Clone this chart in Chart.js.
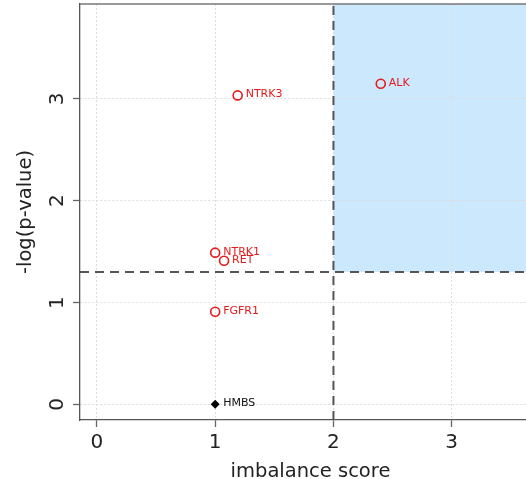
<!DOCTYPE html>
<html>
<head>
<meta charset="utf-8">
<script src="https://cdn.jsdelivr.net/npm/chart.js@4"></script>
<style>
  html, body { margin: 0; padding: 0; overflow: hidden; background: #fff; }
  canvas { display: block; }
</style>
</head>
<body>
<canvas id="volcano" width="526" height="479"></canvas>
<script>
// genes of interest
const genes = ["NTRK3", "ALK", "NTRK1", "RET", "FGFR1"];
const imbalance = [1.19, 2.40, 1.0, 1.075, 1.0];
const logP = [3.035, 3.15, 1.49, 1.41, 0.91];

// housekeeping control
const controlGenes = ["HMBS"];
const controlImbalance = [1.0];
const controlLogP = [0.0];

const xTicks = [0, 1, 2, 3];
const yTicks = [0, 1, 2, 3];
const imbalanceCutoff = 2;
const pCutoff = 1.3;

const red = "#e41a1c";
const fontFamily = "'DejaVu Sans', sans-serif";
Chart.defaults.font.family = fontFamily;

// shaded "significant" corner, under the grid
const shadePlugin = {
  id: "shade",
  beforeDraw(chart) {
    const { ctx, chartArea, scales } = chart;
    const x0 = scales.x.getPixelForValue(imbalanceCutoff);
    const y0 = scales.y.getPixelForValue(pCutoff);
    ctx.save();
    ctx.fillStyle = "#cce8fc";
    ctx.fillRect(x0, chartArea.top, chartArea.right - x0, y0 - chartArea.top);
    ctx.restore();
  }
};

// dashed cutoff lines + top frame
const cutoffPlugin = {
  id: "cutoffs",
  beforeDatasetsDraw(chart) {
    const { ctx, chartArea, scales } = chart;
    const x0 = scales.x.getPixelForValue(imbalanceCutoff);
    const y0 = scales.y.getPixelForValue(pCutoff);
    ctx.save();
    ctx.strokeStyle = "#555";
    ctx.lineWidth = 2;
    ctx.setLineDash([9, 6]);
    ctx.beginPath();
    ctx.moveTo(chartArea.left, y0);
    ctx.lineTo(chartArea.right, y0);
    ctx.moveTo(x0, chartArea.bottom);
    ctx.lineTo(x0, chartArea.top);
    ctx.stroke();
    ctx.setLineDash([]);
    ctx.strokeStyle = "#777";
    ctx.lineWidth = 1.5;
    ctx.beginPath();
    ctx.moveTo(chartArea.left, chartArea.top);
    ctx.lineTo(chartArea.right, chartArea.top);
    ctx.stroke();
    ctx.restore();
  }
};

// gene names next to points, rotated y tick labels, x title
const labelPlugin = {
  id: "labels",
  afterDatasetsDraw(chart) {
    const { ctx, scales } = chart;
    ctx.save();
    ctx.font = "11px " + fontFamily;
    ctx.textAlign = "left";
    ctx.textBaseline = "middle";
    chart.data.datasets.forEach((ds, i) => {
      const meta = chart.getDatasetMeta(i);
      ctx.fillStyle = ds.labelColor;
      meta.data.forEach((pt, j) => {
        ctx.fillText(ds.names[j], pt.x + 8, pt.y - 1);
      });
    });
    ctx.font = "20px " + fontFamily;
    ctx.fillStyle = "#222";
    ctx.textAlign = "center";
    ctx.textBaseline = "alphabetic";
    yTicks.forEach(v => {
      const py = scales.y.getPixelForValue(v);
      ctx.save();
      ctx.translate(63, py);
      ctx.rotate(-Math.PI / 2);
      ctx.fillText(String(v), 0, 0);
      ctx.restore();
    });
    ctx.font = "19.5px " + fontFamily;
    ctx.fillText("imbalance score", 310.5, 477);
    ctx.restore();
  }
};

const gridOpts = {
  color: "#dcdcdc",
  lineWidth: 1,
  tickLength: 7,
  tickColor: "#666",
  tickWidth: 1.3,
  tickBorderDash: []
};

const ctx = document.getElementById("volcano").getContext("2d");
const chart = new Chart(ctx, {
  type: "scatter",
  data: {
    datasets: [
      {
        label: "genes",
        names: genes,
        labelColor: red,
        data: genes.map((g, i) => ({ x: imbalance[i], y: logP[i] })),
        pointStyle: "circle",
        pointRadius: 4.5,
        pointBorderWidth: 1.6,
        borderColor: red,
        backgroundColor: "rgba(0,0,0,0)"
      },
      {
        label: "control",
        names: controlGenes,
        labelColor: "#111",
        data: controlGenes.map((g, i) => ({ x: controlImbalance[i], y: controlLogP[i] })),
        pointStyle: "rectRot",
        pointRadius: 4.5,
        pointBorderWidth: 0,
        borderColor: "#000",
        backgroundColor: "#000"
      }
    ]
  },
  options: {
    responsive: false,
    animation: false,
    layout: { autoPadding: false, padding: { top: 4, right: 0, bottom: 0, left: 0 } },
    plugins: {
      legend: { display: false },
      tooltip: { enabled: false }
    },
    scales: {
      x: {
        type: "linear",
        min: -0.143,
        max: 3.628,
        afterBuildTicks: s => { s.ticks = xTicks.map(v => ({ value: v })); },
        afterFit: s => { s.height = 59; },
        grid: gridOpts,
        border: { color: "#555", width: 1.3, dash: [2, 2] },
        ticks: {
          color: "#222",
          font: { size: 20 },
          padding: 4,
          maxRotation: 0
        }
      },
      y: {
        type: "linear",
        min: -0.154,
        max: 3.933,
        afterBuildTicks: s => { s.ticks = yTicks.map(v => ({ value: v })); },
        afterFit: s => { s.width = 80; },
        grid: gridOpts,
        border: { color: "#555", width: 1.3, dash: [2, 2] },
        ticks: { display: false },
        title: {
          display: true,
          text: "-log(p-value)",
          color: "#222",
          font: { size: 19.5, lineHeight: 1.2 },
          padding: { top: 14, bottom: 0 }
        }
      }
    }
  },
  plugins: [shadePlugin, cutoffPlugin, labelPlugin]
});
</script>
</body>
</html>
